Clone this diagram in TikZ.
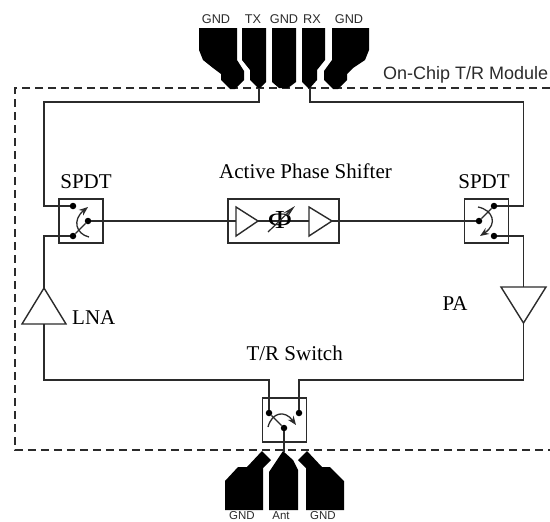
\documentclass[tikz,border=0pt]{standalone}
\usepackage{fontspec}
\setmainfont{Liberation Serif}
\newfontfamily\helv{Liberation Sans}
\usetikzlibrary{arrows.meta}
\definecolor{ink}{HTML}{2B2B2B}
\tikzset{
  wire/.style={draw=ink,line width=1.4pt},
  modulebox/.style={draw=ink,line width=1.2pt,dash pattern=on 8pt off 5pt},
  blockbox/.style={draw=ink,line width=1.4pt,rectangle,inner sep=0pt,minimum height=44pt},
  swbox/.style={blockbox,minimum width=44pt},
  dotnode/.style={circle,fill=black,inner sep=0pt,minimum size=6.5pt},
  pad/.style={fill=black,draw=none},
  padlabel/.style={font=\helv\fontsize{12.7}{14}\selectfont,text=ink,inner sep=0pt},
  lowlabel/.style={font=\helv\fontsize{11.5}{13}\selectfont,text=ink,inner sep=0pt},
  serlabel/.style={font=\fontsize{21}{23}\selectfont,text=black,inner sep=0pt},
  amp/.style={draw=ink,line width=1.4pt,line join=miter},
  swing/.style={draw=ink,line width=1.3pt,-{Stealth[length=9pt,width=7pt]}},
}
\begin{document}
\begin{tikzpicture}[x=1pt,y=-1pt]
\useasboundingbox (0,0) rectangle (550,522);
% module outline
\draw[modulebox] (550,88) -- (15,88) -- (15,450) -- (550,450);
% top pads
\fill[pad] (199,28)--(237,28)--(237,60)--(244,71)--(244,80)--(235,89)--(230,89)--(221,80)--(221,74)--(213,68)--(203,60)--(199,50)--cycle;
\fill[pad] (242,28)--(266,28)--(266,82)--(260,88)--(258,88)--(250,80)--(250,70)--(242,60)--cycle;
\fill[pad] (272,28)--(296,28)--(296,82)--(288,88)--(279,88)--(272,82)--cycle;
\fill[pad] (302,28)--(325,28)--(325,60)--(317,70)--(317,80)--(310,88)--(308,88)--(302,82)--cycle;
\fill[pad] (332,28)--(369,28)--(369,50)--(365,60)--(353,68)--(347,74)--(347,80)--(338,89)--(333,89)--(324,80)--(324,71)--(332,60)--cycle;
% bottom pads
\fill[pad] (262,451)--(271,460)--(263,468)--(263,510)--(225,510)--(225,481)--(238,467)--(247,467)--cycle;
\fill[pad] (283,451)--(293,460)--(298,470)--(298,510)--(269,510)--(269,472)--(277,460)--cycle;
\fill[pad] (307,451)--(298,460)--(306,468)--(306,510)--(344,510)--(344,481)--(330,467)--(322,467)--cycle;
% pad labels
\node[padlabel] (g1) at (216,19) {GND};
\node[padlabel] (tx) at (253,19) {TX};
\node[padlabel] (g2) at (284,19) {GND};
\node[padlabel] (rx) at (312,19) {RX};
\node[padlabel] (g3) at (349,19) {GND};
\node[lowlabel] (g4) at (242,515.5) {GND};
\node[lowlabel] (ant) at (281,515.5) {Ant};
\node[lowlabel] (g5) at (323,515.5) {GND};
\node[font=\helv\fontsize{18}{20}\selectfont,text=ink,inner sep=0pt,anchor=west] (mod) at (383,75) {On-Chip T/R Module};
% boxes
\node[swbox] (ls) at (81,221) {};
\node[swbox] (rs) at (486.5,221) {};
\node[swbox] (bs) at (284.5,420) {};
\node[blockbox,minimum width=111pt] (aps) at (283.5,221) {};
% contacts
\node[dotnode] (l1) at (73,206) {};
\node[dotnode] (l2) at (73,236) {};
\node[dotnode] (lc) at (88,221) {};
\node[dotnode] (r1) at (494,206) {};
\node[dotnode] (r2) at (494,236) {};
\node[dotnode] (rc) at (479,221) {};
\node[dotnode] (b1) at (269,413) {};
\node[dotnode] (b2) at (299,413) {};
\node[dotnode] (bc) at (284,428) {};
% free ends
\coordinate (txp) at (259,88);
\coordinate (rxp) at (310,88);
\coordinate (antp) at (284,452);
\coordinate (lnaT) at (44,288);
\coordinate (lnaL) at (22,324);
\coordinate (lnaR) at (66,324);
\coordinate (lnaB) at (44,324);
\coordinate (paT) at (523.5,287);
\coordinate (paL) at (501,287);
\coordinate (paR) at (546,287);
\coordinate (paB) at (523.5,323);
\coordinate (a1a) at (236,207);
\coordinate (a1b) at (236,236);
\coordinate (a1c) at (258,221);
\coordinate (a1w) at (236,221);
\coordinate (a2a) at (309,207);
\coordinate (a2b) at (309,236);
\coordinate (a2c) at (332,221);
\coordinate (a2w) at (309,221);
% wires
\draw[wire] (txp) -- (259,102) -- (44,102) |- (l1);
\draw[wire] (rxp) -- (310,102) -- (523.5,102) |- (r1);
\draw[wire] (l2) -| (lnaT);
\draw[wire] (r2) -| (paT);
\draw[wire] (lnaB) |- (269,380) -- (b1);
\draw[wire] (paB) |- (299,380) -- (b2);
\draw[wire] (bc) -- (antp);
\draw[wire] (lc) -- (a1w);
\draw[wire] (a1c) -- (a2w);
\draw[wire] (a2c) -- (rc);
% amplifiers
\draw[amp] (lnaT) -- (lnaR) -- (lnaL) -- cycle;
\draw[amp] (paL) -- (paR) -- (paB) -- cycle;
\draw[amp] (a1a) -- (a1c) -- (a1b) -- cycle;
\draw[amp] (a2a) -- (a2c) -- (a2b) -- cycle;
% phase symbol
\node[font=\fontsize{26}{28}\selectfont,inner sep=0pt,xscale=1.25] (phi) at (280,220) {Φ};
\draw[draw=ink,line width=1.2pt,-{Stealth[length=13pt,width=6pt]}] (268,232) -- (295,206);
% switch arms
\draw[wire] (l2) -- (lc);
\draw[wire] (r1) -- (rc);
\draw[wire] (b1) -- (bc);
\draw[swing] (89,237) .. controls (76,234) and (72,220) .. (88,207);
\draw[swing] (478,207) .. controls (493,210) and (498,224) .. (480,236);
\draw[swing] (268,427) .. controls (272,412) and (285,410) .. (296,425);
% serif labels
\node[serlabel] (s1) at (86,182) {SPDT};
\node[serlabel] (s2) at (484,182) {SPDT};
\node[serlabel] (s3) at (305.5,171) {Active Phase Shifter};
\node[serlabel,anchor=west] (s4) at (72,318) {LNA};
\node[serlabel] (s5) at (455,304) {PA};
\node[serlabel,anchor=east] (s6) at (343,353) {T/R Switch};
\end{tikzpicture}
\end{document}
